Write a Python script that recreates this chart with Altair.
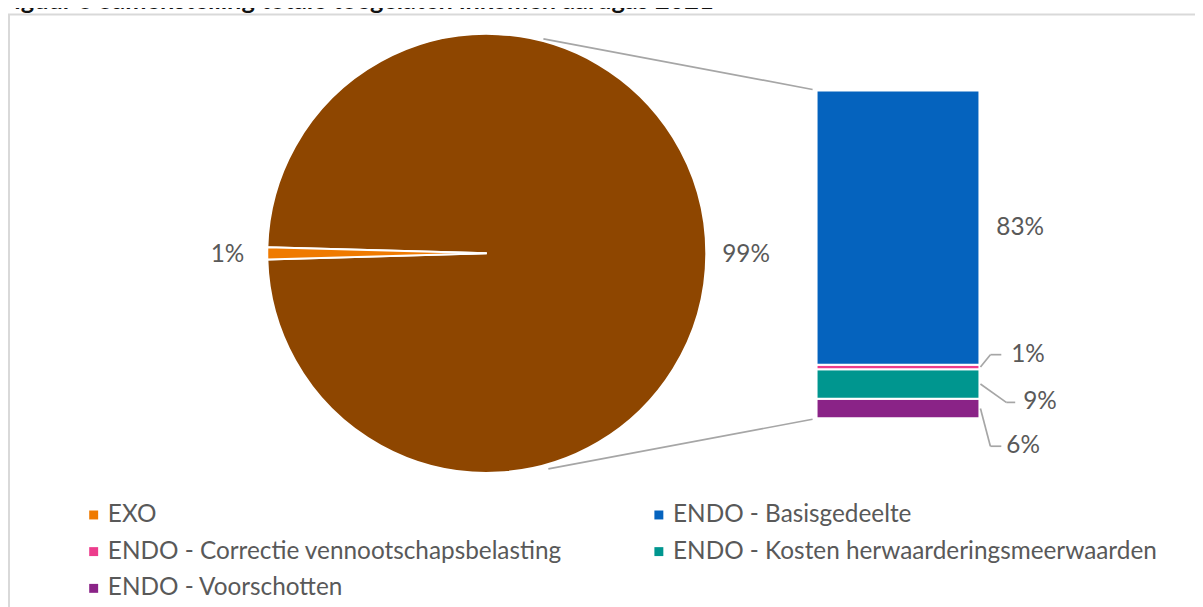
import math
import altair as alt
import pandas as pd

# ---------------- data ----------------
title_text = "Figuur 6 Samenstelling totale toegelaten inkomen aardgas 2021"

pie_names = ["ENDO", "EXO"]
pie_values = [99.1, 0.9]
pie_labels = ["99%", "1%"]

# bar (bottom -> top)
bar_names = [
    "ENDO - Voorschotten",
    "ENDO - Kosten herwaarderingsmeerwaarden",
    "ENDO - Correctie vennootschapsbelasting",
    "ENDO - Basisgedeelte",
]
bar_values = [5.9, 8.9, 1.4, 82.9]
bar_labels = ["6%", "9%", "1%", "83%"]

# legend entries (column-major fill: first column, then second column)
legend_order = [
    "EXO",
    "ENDO - Correctie vennootschapsbelasting",
    "ENDO - Voorschotten",
    "ENDO - Basisgedeelte",
    "ENDO - Kosten herwaarderingsmeerwaarden",
]

# ---------------- styles / layout ----------------
COL = {
    "ENDO": "#8E4600",
    "EXO": "#EF7A00",
    "ENDO - Basisgedeelte": "#0563BE",
    "ENDO - Correctie vennootschapsbelasting": "#EC3C8C",
    "ENDO - Kosten herwaarderingsmeerwaarden": "#00968F",
    "ENDO - Voorschotten": "#8A2387",
}
FONT = "Lato"
FS = 24.5
TXT = "#595959"
LINE = "#A6A6A6"

W, H = 1195, 599
PIE_CX, PIE_CY, PIE_R = 482, 245, 221
PIE_LABEL_R = 261
BAR_X0, BAR_X1 = 814, 978
BAR_TOP, BAR_BOTTOM = 81, 411

# label placement relative to bar (px): x offset from bar right edge, y offset from segment middle
label_dx = [27, 44, 32, 17]
label_dy = [38, 18.5, -12.4, 0]
leader_elbow_dx = [11, 27, 11]
leader_end_dx = [22, 36, 22]

# connector lines pie -> bar (px)
conn_x1 = [539, 544]
conn_y1 = [29, 462]
conn_x2 = [810, 810]
conn_y2 = [80, 412]

# ---------------- tables ----------------
pie_total = sum(pie_values)
pie_df = pd.DataFrame({"name": pie_names, "value": pie_values,
                       "label": pie_labels, "idx": range(len(pie_names))})
# rotate so that EXO is centred on 9 o'clock
start = 3.5 * math.pi - 2 * math.pi * (pie_values[0] + pie_values[1] / 2) / pie_total
theta_scale = alt.Scale(domain=[0, pie_total], range=[start, start + 2 * math.pi])

bar_total = sum(bar_values)
ppu = (BAR_BOTTOM - BAR_TOP) / bar_total
y0, y1, mids = [], [], []
acc = 0.0
for v in bar_values:
    y0.append(acc)
    y1.append(acc + v)
    mids.append(acc + v / 2)
    acc += v
bar_df = pd.DataFrame({"name": bar_names, "y0": y0, "y1": y1})

lab_df = pd.DataFrame({
    "label": bar_labels,
    "lx": [BAR_X1 + d for d in label_dx],
    "ly": [m - d / ppu for m, d in zip(mids, label_dy)],
})

seg = []
for i in range(3):
    ly = mids[i] - label_dy[i] / ppu
    seg.append({"xa": BAR_X1 + 1, "xb": BAR_X1 + leader_elbow_dx[i], "ya": mids[i], "yb": ly})
    seg.append({"xa": BAR_X1 + leader_elbow_dx[i], "xb": BAR_X1 + leader_end_dx[i], "ya": ly, "yb": ly})
lead_df = pd.DataFrame(seg)

conn_df = pd.DataFrame({"x1": conn_x1, "y1": conn_y1, "x2": conn_x2, "y2": conn_y2})
one = pd.DataFrame({"t": [title_text]})

yscale = alt.Scale(domain=[0, bar_total], range=[BAR_BOTTOM, BAR_TOP], nice=False, zero=True)

# ---------------- layers ----------------
border = alt.Chart(one).mark_rect(fillOpacity=0, stroke="#D9D9D9", strokeWidth=2).encode(
    x=alt.value(1), x2=alt.value(1400), y=alt.value(4.5), y2=alt.value(800))

title = alt.Chart(one).mark_text(font=FONT, fontWeight="bold", fontSize=25.5, align="left",
                                 baseline="alphabetic", color="#111111").encode(
    x=alt.value(-8), y=alt.value(-1), text="t:N")

conn = alt.Chart(conn_df).mark_rule(color=LINE, strokeWidth=1.7).encode(
    x=alt.X("x1:Q", scale=None), x2="x2:Q",
    y=alt.Y("y1:Q", scale=None), y2="y2:Q")

arcs = alt.Chart(pie_df).mark_arc(outerRadius=PIE_R, stroke="white", strokeWidth=2).encode(
    theta=alt.Theta("value:Q", stack=True, scale=theta_scale),
    color=alt.Color("name:N", scale=alt.Scale(domain=pie_names, range=[COL[n] for n in pie_names]),
                    legend=None),
    order=alt.Order("idx:Q"),
    x=alt.value(PIE_CX), y=alt.value(PIE_CY))

pie_text = alt.Chart(pie_df).mark_text(radius=PIE_LABEL_R, font=FONT, fontSize=FS, color=TXT,
                                       baseline="middle", dy=2).encode(
    theta=alt.Theta("value:Q", stack=True, scale=theta_scale),
    detail="name:N",
    order=alt.Order("idx:Q"),
    text="label:N",
    x=alt.value(PIE_CX), y=alt.value(PIE_CY))

bars = alt.Chart(bar_df).mark_rect(stroke="white", strokeWidth=2).encode(
    x=alt.value(BAR_X0), x2=alt.value(BAR_X1),
    y=alt.Y("y0:Q", scale=yscale, axis=None), y2="y1:Q",
    color=alt.Color("name:N",
                    scale=alt.Scale(domain=legend_order, range=[COL[n] for n in legend_order]),
                    legend=alt.Legend(orient="none", legendX=74, legendY=496, columns=2,
                                      columnPadding=85, rowPadding=12, symbolType="square",
                                      symbolSize=81, symbolStrokeWidth=0, labelFont=FONT,
                                      labelFontSize=FS, labelColor=TXT, labelLimit=800,
                                      labelOffset=2, title=None, padding=0)))

bar_text = alt.Chart(lab_df).mark_text(font=FONT, fontSize=FS, color=TXT, align="left",
                                       baseline="middle").encode(
    x=alt.X("lx:Q", scale=None),
    y=alt.Y("ly:Q", scale=yscale, axis=None),
    text="label:N")

leaders = alt.Chart(lead_df).mark_rule(color=LINE, strokeWidth=1.7).encode(
    x=alt.X("xa:Q", scale=None), x2="xb:Q",
    y=alt.Y("ya:Q", scale=yscale, axis=None), y2="yb:Q")

chart = alt.layer(border, title, conn, arcs, pie_text, bars, bar_text, leaders).resolve_scale(
    color="independent", x="independent", y="independent"
).properties(
    width=W, height=H, padding=0, autosize=alt.AutoSizeParams(type="none"), background="white"
).configure_view(stroke=None)

chart.save("out.html", embed_options={"renderer": "svg", "actions": False})
